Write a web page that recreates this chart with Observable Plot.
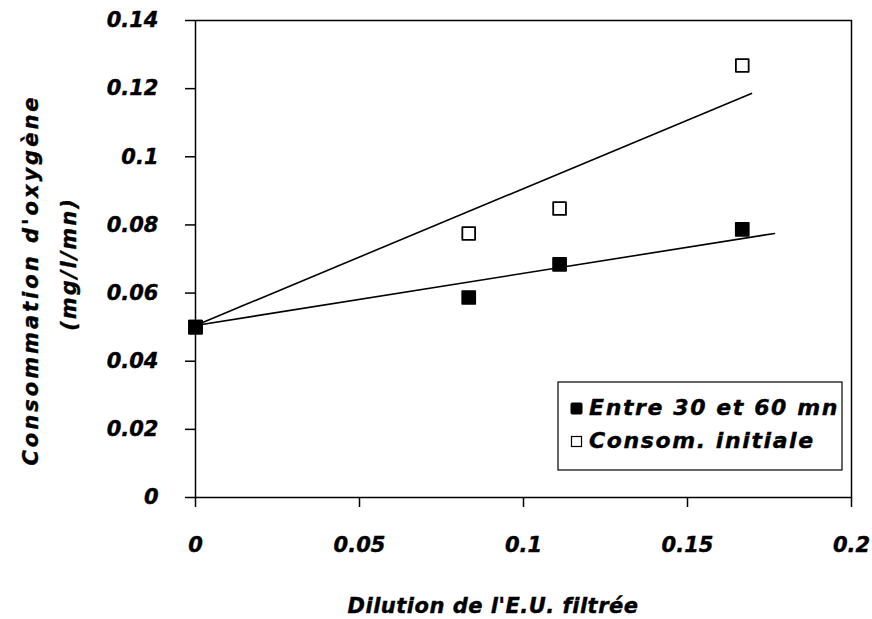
<!DOCTYPE html>
<html><head><meta charset="utf-8">
<script src="https://cdn.jsdelivr.net/npm/d3@7"></script>
<script src="https://cdn.jsdelivr.net/npm/@observablehq/plot@0.6"></script>
<style>
body{margin:0;background:#fff;}
svg text{font-family:"DejaVu Sans",Arial,sans-serif;font-weight:bold;font-style:italic;stroke:#000;stroke-width:0.4px;fill:#000;}
</style></head>
<body><div id="chart"></div>
<script>
const dilution = [0, 0.0833, 0.111, 0.1667];
const entre30et60 = [0.050, 0.0587, 0.0684, 0.0787];
const consomInitiale = [0.050, 0.0775, 0.0848, 0.1268];
// trend line endpoints (as drawn in the source)
const trendEntreX = [0, 0.1765];
const trendEntreY = [0.0505, 0.0775];
const trendInitX = [0, 0.1695];
const trendInitY = [0.0505, 0.1186];
const xTicks = [0, 0.05, 0.1, 0.15, 0.2];
const yTicks = [0, 0.02, 0.04, 0.06, 0.08, 0.1, 0.12, 0.14];
const seriesNames = ["Entre 30 et 60 mn", "Consom. initiale"];

const filled = dilution.map((x,i)=>({x, y: entre30et60[i]}));
const open = dilution.map((x,i)=>({x, y: consomInitiale[i]}));
const tA = trendEntreX.map((x,i)=>({x, y: trendEntreY[i]}));
const tB = trendInitX.map((x,i)=>({x, y: trendInitY[i]}));

const fmt = d => String(d);
const plot = Plot.plot({
  width: 872, height: 619,
  marginLeft: 195, marginRight: 21, marginTop: 20, marginBottom: 122,
  style: {fontFamily: "DejaVu Sans, Arial, sans-serif", fontSize: "21px", color: "#000", background: "#fff"},
  x: {domain: [0, 0.2]},
  y: {domain: [0, 0.14]},
  marks: [
    Plot.frame({stroke: "#000", strokeWidth: 1.5}),
    Plot.axisX({ticks: xTicks, tickFormat: fmt, tickSize: 10, tickPadding: 30, strokeWidth: 1.5, fontSize: 21, label: null, textAnchor: "middle"}),
    Plot.axisY({ticks: yTicks, tickFormat: fmt, tickSize: 10, tickPadding: 27, strokeWidth: 1.5, fontSize: 21, label: null}),
    Plot.line(tA, {x: "x", y: "y", stroke: "#000", strokeWidth: 1.6}),
    Plot.line(tB, {x: "x", y: "y", stroke: "#000", strokeWidth: 1.6}),
    Plot.dot(open, {x: "x", y: "y", symbol: "square", r: 7.2, fill: "#fff", stroke: "#000", strokeWidth: 1.8, strokeLinejoin: "round"}),
    Plot.dot(filled, {x: "x", y: "y", symbol: "square", r: 7.4, fill: "#000", stroke: "#000", strokeWidth: 1.6, strokeLinejoin: "round"})
  ]
});
document.getElementById("chart").appendChild(plot);

const svg = d3.select(plot);
svg.selectAll("text").style("font-size","21px");
// Axis titles
svg.append("text").attr("x", 493).attr("y", 613).attr("text-anchor","middle")
  .style("font-size","21px").style("letter-spacing","0.5px").text("Dilution de l'E.U. filtrée");
svg.append("text").attr("transform","translate(38,280) rotate(-90)").attr("text-anchor","middle")
  .style("font-size","21px").style("letter-spacing","3px").text("Consommation d'oxygène");
svg.append("text").attr("transform","translate(76,264) rotate(-90)").attr("text-anchor","middle")
  .style("font-size","21px").style("letter-spacing","2px").text("(mg/l/mn)");
// Legend
const lg = svg.append("g").attr("text-anchor","start");
lg.append("rect").attr("x",558).attr("y",382).attr("width",284).attr("height",88)
  .attr("fill","#fff").attr("stroke","#000").attr("stroke-width",1.2);
lg.append("rect").attr("x",571).attr("y",403).attr("width",11).attr("height",11).attr("fill","#000").attr("stroke","#000").attr("stroke-width",1).attr("rx",1);
lg.append("rect").attr("x",571.5).attr("y",436.5).attr("width",10).attr("height",10).attr("fill","#fff").attr("stroke","#000").attr("stroke-width",1.2);
lg.append("text").attr("x",589).attr("y",415).attr("text-anchor","start").style("font-size","22px").style("letter-spacing","1.6px").text(seriesNames[0]);
lg.append("text").attr("x",589).attr("y",448).attr("text-anchor","start").style("font-size","22px").style("letter-spacing","1.6px").text(seriesNames[1]);
</script></body></html>
